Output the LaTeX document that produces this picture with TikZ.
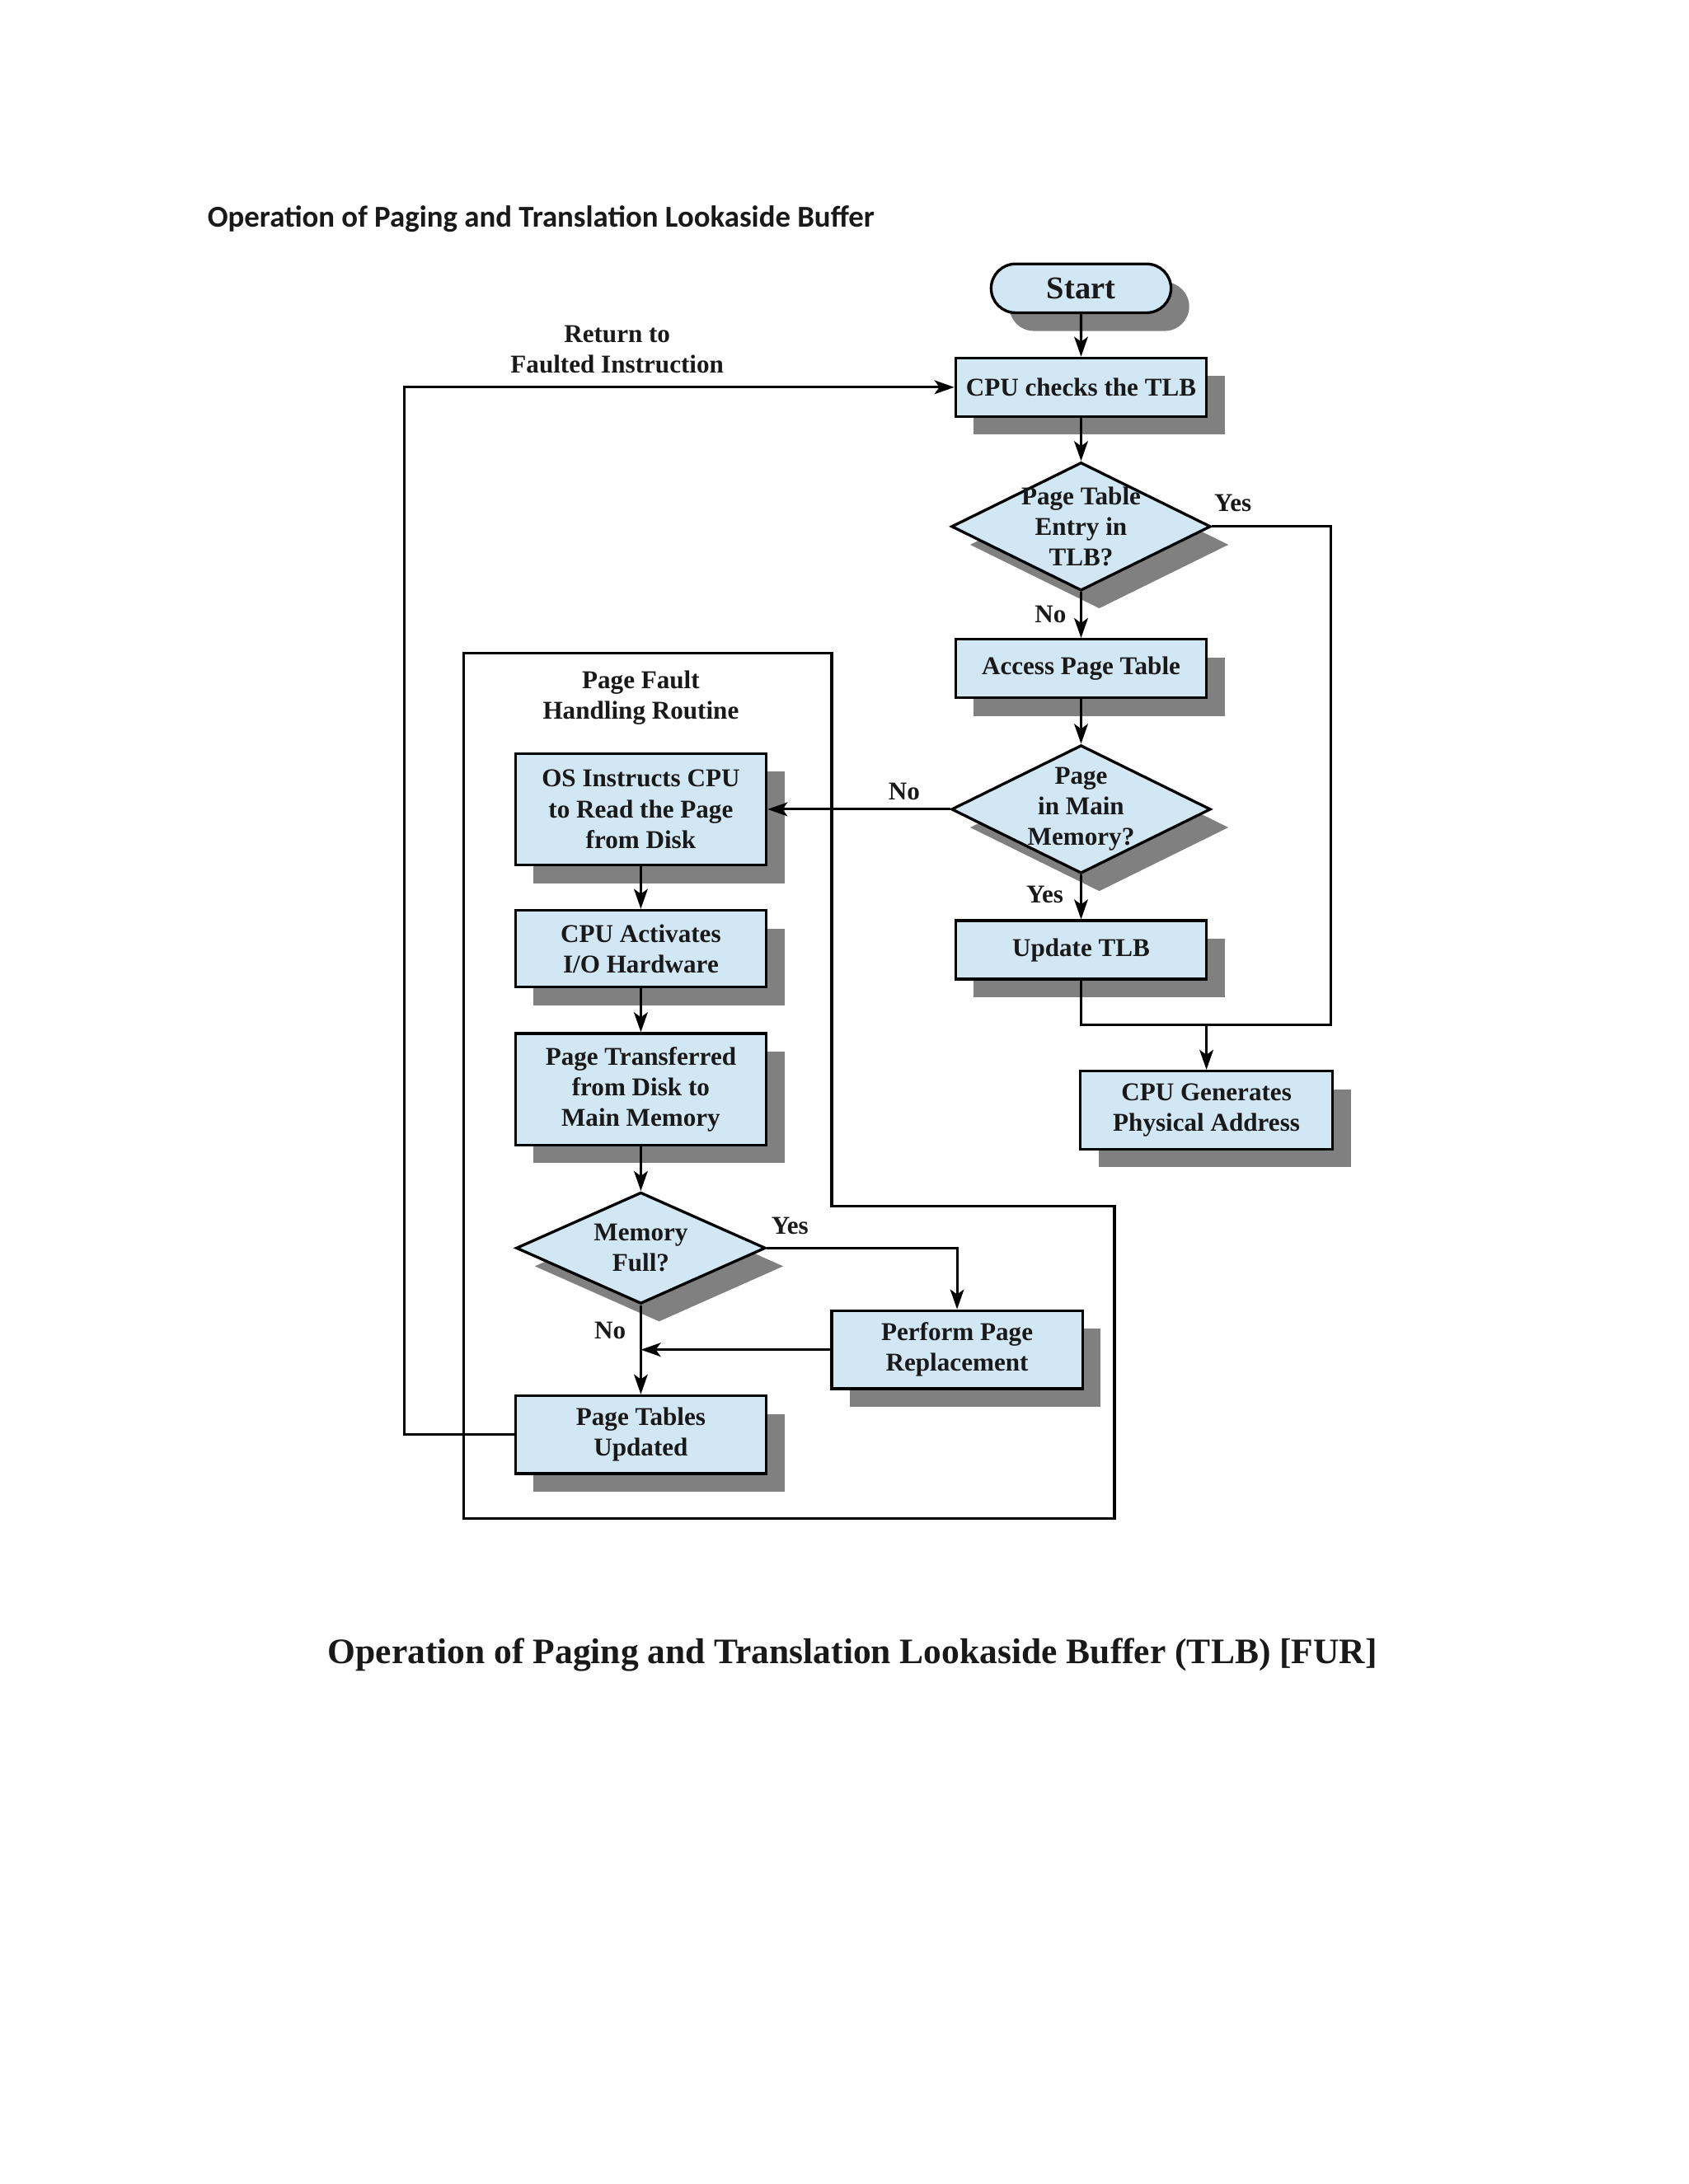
\documentclass[tikz,border=0pt]{standalone}
\usepackage{fontspec}
\setmainfont{Liberation Serif}
\newfontfamily\headfont{Carlito}
\usetikzlibrary{shadows, shapes.geometric, shapes.misc, arrows.meta, positioning}
\definecolor{boxblue}{RGB}{210,231,244}
\definecolor{shadowgray}{RGB}{128,128,128}

\begin{document}
\begin{tikzpicture}[x=0.505pt, y=-0.505pt,
    every node/.style={font=\bfseries\fontsize{9.3}{11.1}\selectfont, text=black!90},
    shade/.style={drop shadow={shadow xshift=6.6pt, shadow yshift=-6.6pt, fill=shadowgray, opacity=1}},
    procbox/.style={draw, line width=1pt, fill=boxblue, shade, align=center,
        minimum width=90.9pt, minimum height=21.2pt, inner sep=1pt},
    decision/.style={draw, line width=1pt, fill=boxblue, shade, align=center, diamond, aspect=2,
        minimum width=94pt, minimum height=46.5pt, inner sep=-3pt},
    term/.style={draw, line width=1pt, fill=boxblue, shade, rounded rectangle,
        minimum width=67.2pt, minimum height=17.7pt, inner sep=1pt,
        font=\bfseries\fontsize{11.5}{13}\selectfont},
    lbl/.style={inner sep=0pt},
    line/.style={line width=0.9pt},
    arr/.style={line width=0.9pt, -{Stealth[length=7.2pt, width=5pt, inset=1.8pt]}},
    frame/.style={line width=1pt}]
    % page size and margins
    \path[use as bounding box] (0,0) rectangle (1212,1568);

    \node[anchor=base west, font=\headfont\bfseries\fontsize{11}{13}\selectfont] (head) at (142,163)
        {Operation of Paging and Translation Lookaside Buffer};

    % main path
    \node[term] (start) at (776,207) {Start};
    \node[procbox] (check) at (776,278) {CPU checks the TLB};
    \node[decision] (tlbq) at (776,378) {Page Table\\Entry in\\TLB?};
    \node[procbox] (access) at (776,480) {Access Page Table};
    \node[decision] (memq) at (776,581) {Page\\in Main\\Memory?};
    \node[procbox] (update) at (776,682) {Update TLB};
    \node[procbox, minimum width=91.4pt, minimum height=28.3pt] (genaddr) at (866,797) {CPU Generates\\Physical Address};

    % page fault handling routine
    \draw[frame] (333,469) -- (597,469) -- (597,866) -- (800,866) -- (800,1090) -- (333,1090) -- cycle;
    \node[align=center] (pfr) at (460,501) {Page Fault\\Handling Routine};

    \node[procbox, minimum height=40.4pt] (osread) at (460,581) {OS Instructs CPU\\to Read the Page\\from Disk};
    \node[procbox, minimum height=27.8pt] (activate) at (460,681) {CPU Activates\\I/O Hardware};
    \node[procbox, minimum height=40.4pt] (transfer) at (460,782) {Page Transferred\\from Disk to\\Main Memory};
    \node[decision, minimum width=90.4pt, minimum height=40.4pt] (memfull) at (460,896) {Memory\\Full?};
    \node[procbox, minimum height=28.3pt] (replace) at (687,969) {Perform Page\\Replacement};
    \node[procbox, minimum height=28.3pt] (ptupd) at (460,1030) {Page Tables\\Updated};

    % labels
    \node[align=center] (ret) at (443,251) {Return to\\Faulted Instruction};
    \node[lbl] (tlbyes) at (885,361) {Yes};
    \node[lbl] (tlbno) at (754,441) {No};
    \node[lbl] (memno) at (649,568) {No};
    \node[lbl] (memyes) at (750,642) {Yes};
    \node[lbl] (fullyes) at (567,880) {Yes};
    \node[lbl] (fullno) at (438,955) {No};

    % connectors
    \draw[arr] (start) -- (check);
    \draw[arr] (check) -- (tlbq);
    \draw[arr] (tlbq) -- (access);
    \draw[arr] (access) -- (memq);
    \draw[arr] (memq) -- (update);
    \draw[arr] (memq.west) -- (osread.east);

    \coordinate (tlbturn) at (955,736);
    \coordinate (merge) at (866,736);
    \draw[line] (tlbq.east) -| (tlbturn) -- (merge);
    \draw[line] (update.south) |- (merge);
    \draw[arr] (merge) -- (genaddr);

    \draw[arr] (osread) -- (activate);
    \draw[arr] (activate) -- (transfer);
    \draw[arr] (transfer) -- (memfull);
    \draw[arr] (memfull.east) -| (replace.north);
    \draw[arr] (memfull) -- (ptupd);
    \coordinate (repjoin) at (memfull.south |- replace.west);
    \draw[arr] (replace.west) -- (repjoin);

    \coordinate (retcorner) at (290,1030);
    \draw[arr] (ptupd.west) -- (retcorner) |- (check.west);

    \node[font=\bfseries\fontsize{13}{15}\selectfont] (caption) at (612,1188)
        {Operation of Paging and Translation Lookaside Buffer (TLB) [FUR]};
\end{tikzpicture}
\end{document}
